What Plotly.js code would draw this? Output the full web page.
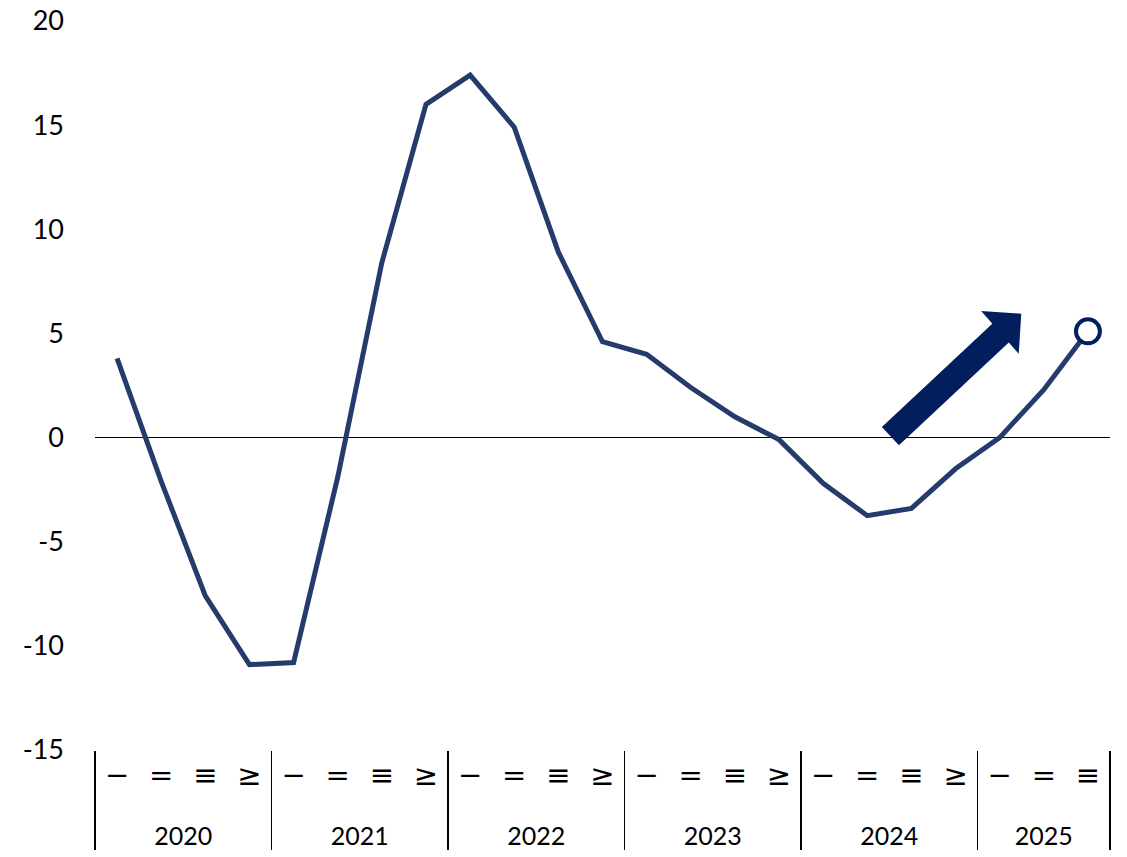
<!DOCTYPE html>
<html>
<head>
<meta charset="utf-8">
<script src="https://cdn.plot.ly/plotly-3.0.1.min.js"></script>
<style>html,body{margin:0;padding:0;background:#fff}#chart{width:1127px;height:857px}</style>
</head>
<body>
<div id="chart"></div>
<script>
const years = ["2020","2020","2020","2020","2021","2021","2021","2021","2022","2022","2022","2022","2023","2023","2023","2023","2024","2024","2024","2024","2025","2025","2025"];
const quarters = ["−","=","≡","≥","−","=","≡","≥","−","=","≡","≥","−","=","≡","≥","−","=","≡","≥","−","=","≡"];
const values = [3.8,-2.1,-7.6,-10.9,-10.8,-1.9,8.4,16.0,17.4,14.9,8.9,4.6,4.0,2.4,1.0,-0.1,-2.2,-3.75,-3.4,-1.5,0.0,2.3,5.1];
const yTicks = [-15,-10,-5,0,5,10,15,20];
const yTickText = ["-15","-10","-5","0","5","10","15","20"];

const n = values.length;
const yearLabels = years.map(y => '<br>' + y);
const quarterLabels = quarters.map(q => '<span style="font-family:\'DejaVu Sans\';font-size:29px">' + q + '</span>');

const lineTrace = {
  x: [yearLabels, quarterLabels],
  y: values,
  type: 'scatter',
  mode: 'lines',
  line: {color: '#243B6B', width: 5},
  hoverinfo: 'skip'
};
const lastTrace = {
  x: [[yearLabels[n-1]], [quarterLabels[n-1]]],
  y: [values[n-1]],
  type: 'scatter',
  mode: 'markers',
  marker: {symbol: 'circle', size: 24, color: '#ffffff', line: {color: '#002060', width: 4}},
  hoverinfo: 'skip'
};

const layout = {
  width: 1127, height: 857,
  margin: {l: 95, r: 17, t: 21, b: 107},
  paper_bgcolor: '#ffffff', plot_bgcolor: '#ffffff',
  showlegend: false,
  font: {family: 'Lato, "Liberation Sans", sans-serif', color: '#000', size: 25},
  xaxis: {
    type: 'multicategory',
    range: [-0.5, n - 0.5],
    showgrid: false, showline: false, zeroline: false,
    ticks: '',
    ticklabelstandoff: 9,
    showdividers: true, dividercolor: '#000', dividerwidth: 1.5,
    tickfont: {family: 'Lato, "Liberation Sans", sans-serif', size: 25, color: '#000'}
  },
  yaxis: {
    range: [-15, 20],
    tickvals: yTicks,
    ticktext: yTickText,
    showgrid: false, showline: false,
    zeroline: true, zerolinecolor: '#000', zerolinewidth: 1.5,
    ticks: '',
    ticklabelstandoff: 30,
    tickfont: {family: 'Lato, "Liberation Sans", sans-serif', size: 27, color: '#000'}
  },
  annotations: [
    { // shaft
      xref: 'x', yref: 'y', axref: 'x', ayref: 'y',
      x: 20.08, y: 5.13, ax: 17.49, ay: 0.0,
      text: '', showarrow: true,
      arrowhead: 0, arrowwidth: 25, arrowcolor: '#031E5C'
    },
    { // head
      xref: 'x', yref: 'y', axref: 'x', ayref: 'y',
      x: 20.49, y: 5.95, ax: 19.9, ay: 4.85,
      text: '', showarrow: true,
      arrowhead: 1, arrowwidth: 6, arrowsize: 1.58, arrowcolor: '#031E5C'
    }
  ]
};

Plotly.newPlot('chart', [lineTrace, lastTrace], layout, {displayModeBar: false, staticPlot: true});
</script>
</body>
</html>
